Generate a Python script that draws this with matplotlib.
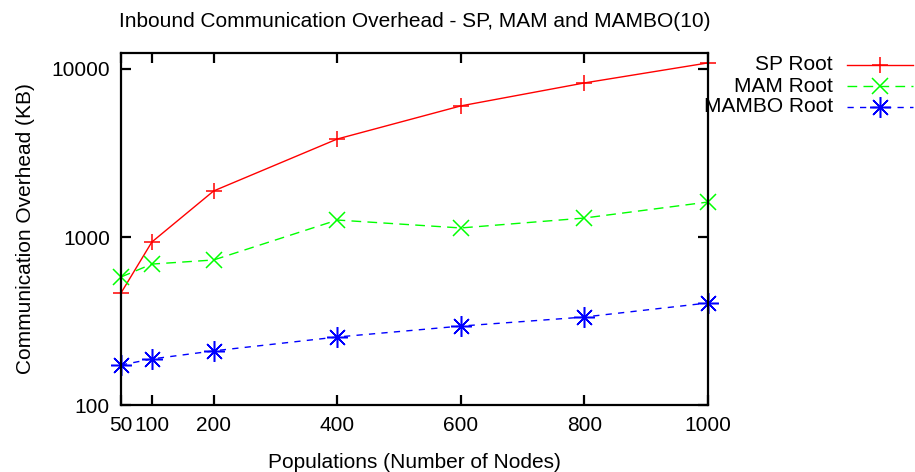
import matplotlib
matplotlib.use('Agg')
from matplotlib import pyplot as plt
from matplotlib.lines import Line2D
from matplotlib.ticker import FixedLocator, NullLocator, FixedFormatter

plt.rcParams['font.family'] = ['Liberation Sans', 'DejaVu Sans']

nodes = [50, 100, 200, 400, 600, 800, 1000]
sp_root = [464, 934, 1880, 3830, 6030, 8260, 10870]
mam_root = [578, 690, 730, 1262, 1132, 1297, 1615]
mambo_root = [173, 188, 210, 254, 295, 334, 405]

x_ticks = [50, 100, 200, 400, 600, 800, 1000]
y_ticks = [100, 1000, 10000]

fig = plt.figure(figsize=(9.15, 4.72), dpi=100)
ax = fig.add_axes([0.1322, 0.1419, 0.6415, 0.7458])

# label, values, colour, marker, marker size, line style
series = [
    ('SP Root', sp_root, '#ff0000', '+', 12, '-'),
    ('MAM Root', mam_root, '#00ff00', 'x', 11, (0, (7, 4.5))),
    ('MAMBO Root', mambo_root, '#0000ff', (8, 2, 0), 15, (0, (4.5, 4.5))),
]

for label, vals, color, marker, ms, ls in series:
    ax.plot(nodes, vals, color=color, marker=marker, linestyle=ls, lw=1,
            markersize=ms, markeredgewidth=1.1, clip_on=False)

ax.set_yscale('log')
ax.set_xlim(50, 1000)
ax.set_ylim(100, 12450)
ax.xaxis.set_major_locator(FixedLocator(x_ticks))
ax.yaxis.set_major_locator(FixedLocator(y_ticks))
ax.yaxis.set_major_formatter(FixedFormatter([str(v) for v in y_ticks]))
ax.yaxis.set_minor_locator(NullLocator())

for s in ax.spines.values():
    s.set_linewidth(1.6)
ax.tick_params(direction='in', length=7, width=1.6, top=True, right=True,
               labelsize=15, pad=8)

ax.set_title('Inbound Communication Overhead - SP, MAM and MAMBO(10)',
             fontsize=15, pad=19)
ax.set_xlabel('Populations (Number of Nodes)', fontsize=15, labelpad=13)
ax.set_ylabel('Communication Overhead (KB)', fontsize=15, labelpad=12)

# gnuplot-style key outside on the right
ys = [1 - 65 / 472, 1 - 86 / 472, 1 - 107 / 472]
for (label, vals, color, marker, ms, ls), y in zip(series, ys):
    fig.text(833 / 915, y, label, ha='right', va='center', fontsize=15)
    fig.add_artist(Line2D([847 / 915, 913 / 915], [y, y], color=color,
                          linestyle=ls, lw=1, transform=fig.transFigure))
    fig.add_artist(Line2D([880 / 915], [y], color=color, marker=marker,
                          markersize=ms, markeredgewidth=1.1, linestyle='none',
                          transform=fig.transFigure))

fig.savefig('out.png', dpi=100)
